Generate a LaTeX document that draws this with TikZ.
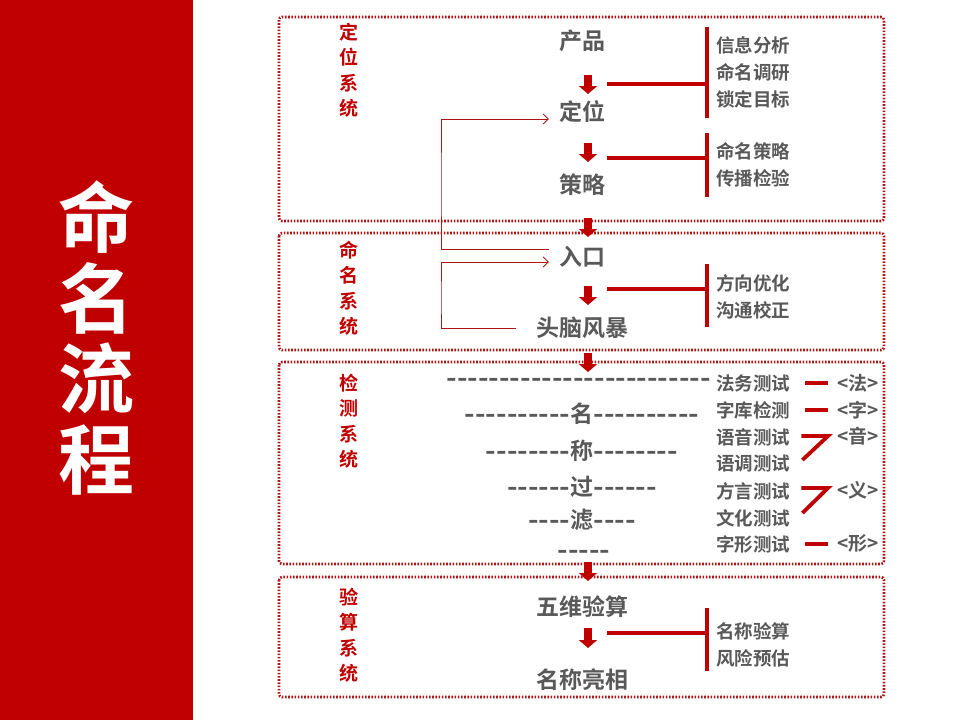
\documentclass[tikz,border=0pt]{standalone}
\usepackage{fontspec}
\setmainfont{Noto Sans CJK SC}[BoldFont={Noto Sans CJK SC Bold}]
\newfontfamily\dashfont{Noto Sans CJK SC Bold}[FakeStretch=1.2,Ligatures=TeXOff]
\usetikzlibrary{
  arrows.meta,
  calc
}
\definecolor{deepred}{HTML}{C00000}
\definecolor{boxred}{HTML}{B01515}
\definecolor{textgray}{HTML}{595959}
\tikzset{
  sys box/.style={
    draw=boxred, line width=2.6pt, dash pattern=on 1.6pt off 1.6pt,
    rounded corners=3pt
  },
  sys label/.style={
    text=deepred, align=center, inner sep=0pt,
    font=\fontsize{19}{25.5}\selectfont\bfseries
  },
  step node/.style={
    text=textgray, inner sep=2pt,
    font=\fontsize{23}{27}\selectfont\bfseries
  },
  item list/.style={
    text=textgray, align=left, anchor=west, inner sep=0pt,
    font=\fontsize{18.5}{27}\selectfont\bfseries
  },
  dash row/.style={
    text=textgray, inner sep=0pt,
    font=\fontsize{23}{25}\selectfont\bfseries
  },
  tag node/.style={
    text=textgray, anchor=west, inner sep=0pt,
    font=\fontsize{19}{22}\selectfont\bfseries
  },
  down arrow/.style={
    draw=deepred, line width=8pt, -{Triangle[width=18pt,length=8pt]}
  },
  bracket line/.style={draw=deepred, line width=4pt},
  tick line/.style={draw=deepred, line width=3.8pt, line join=miter},
  loop line/.style={
    draw=boxred, line width=0.9pt, -{Straight Barb[length=5pt,width=10pt]}
  }
}

\begin{document}
\begin{tikzpicture}[x=1pt,y=-1pt]
\useasboundingbox (0,0) rectangle (960,720);
\fill[deepred] (0,0) rectangle (193,720);
\node[text=white, align=center, font=\fontsize{76}{80.5}\selectfont\bfseries] (title) at (96,338) {命\\名\\流\\程};

% four system boxes
\draw[sys box] (279,17) rectangle (884,221);
\draw[sys box] (279,233) rectangle (884,350);
\draw[sys box] (279,362) rectangle (884,564);
\draw[sys box] (279,577) rectangle (884,697);
\node[sys label] (dwxt) at (349,70) {定\\位\\系\\统};
\node[sys label] (mmxt) at (349,288) {命\\名\\系\\统};
\node[sys label] (jcxt) at (349,421) {检\\测\\系\\统};
\node[sys label] (ysxt) at (349,635) {验\\算\\系\\统};

% main steps
\node[step node] (chanpin) at (582,41) {产品};
\node[step node] (dingwei) at (582,112) {定位};
\node[step node] (celve) at (582,185) {策略};
\node[step node] (rukou) at (582,257) {入口};
\node[step node] (naobao) at (582,328) {头脑风暴};
\node[step node] (wuwei) at (582,607) {五维验算};
\node[step node] (liangxiang) at (582,680) {名称亮相};

\coordinate (a1s) at (588,75);  \coordinate (a1e) at (588,94);
\coordinate (a2s) at (588,143); \coordinate (a2e) at (588,162);
\coordinate (a3s) at (588,218); \coordinate (a3e) at (588,237);
\coordinate (a4s) at (588,286); \coordinate (a4e) at (588,305);
\coordinate (a5s) at (588,353); \coordinate (a5e) at (588,372);
\coordinate (a6s) at (588,562); \coordinate (a6e) at (588,581);
\coordinate (a7s) at (588,628); \coordinate (a7e) at (588,648);
\foreach \i in {1,...,7}
  \draw[down arrow] (a\i s) -- (a\i e);

% brackets with their lists
\coordinate (b1t) at (707,27);  \coordinate (b1b) at (707,118);
\coordinate (b2t) at (707,133); \coordinate (b2b) at (707,197);
\coordinate (b3t) at (707,264); \coordinate (b3b) at (707,327);
\coordinate (b4t) at (707,608); \coordinate (b4b) at (707,671);
\coordinate (h1) at (607,84);
\coordinate (h2) at (607,158);
\coordinate (h3) at (607,289);
\coordinate (h4) at (607,633);
\foreach \i in {1,...,4}{
  \draw[bracket line] (b\i t) -- (b\i b);
  \draw[bracket line] (h\i) -- (h\i -| b\i t);
}
\node[item list] (list1) at (716,72) {信息分析\\命名调研\\锁定目标};
\node[item list] (list2) at (716,165) {命名策略\\传播检验};
\node[item list] (list3) at (716,297) {方向优化\\沟通校正};
\node[item list] (list4) at (716,645) {名称验算\\风险预估};

% feedback loops
\coordinate (loop1) at (441,185);
\coordinate (loop2) at (441,300);
\draw[loop line] ([xshift=-8pt,yshift=8pt]rukou.west) -| (loop1) |- ([xshift=-8pt,yshift=-7pt]dingwei.west);
\draw[loop line] ([xshift=-18pt]naobao.west) -| (loop2) |- ([xshift=-8pt,yshift=-5pt]rukou.west);

% filter funnel
\node[dash row, anchor=east] (row1) at (711,382) {\dashfont -------------------------};
\node[dash row] (row2) at (582,414) {{\dashfont ----------}名{\dashfont ----------}};
\node[dash row] (row3) at (582,451) {{\dashfont --------}称{\dashfont --------}};
\node[dash row] (row4) at (582,487) {{\dashfont ------}过{\dashfont ------}};
\node[dash row] (row5) at (582,520) {{\dashfont ----}滤{\dashfont ----}};
\node[dash row] (row6) at (584,554) {\dashfont -----};

\node[item list] (fawu) at (716,383) {法务测试};
\node[item list] (ziku) at (716,410) {字库检测};
\node[item list] (yuyin) at (716,437) {语音测试};
\node[item list] (yudiao) at (716,464) {语调测试};
\node[item list] (fangyan) at (716,491) {方言测试};
\node[item list] (wenhua) at (716,518) {文化测试};
\node[item list] (zixing) at (716,544) {字形测试};

\node[tag node] (tagfa) at (837,383) {<法>};
\node[tag node] (tagzi) at (837,410) {<字>};
\node[tag node] (tagyin) at (837,436) {<音>};
\node[tag node] (tagyi) at (837,490) {<义>};
\node[tag node] (tagxing) at (837,543) {<形>};

\draw[tick line] ([xshift=15pt]fawu.east) -- ([xshift=-9pt]fawu.east -| tagfa.west);
\draw[tick line] ([xshift=15pt]ziku.east) -- ([xshift=-9pt]ziku.east -| tagzi.west);
\draw[tick line] ([xshift=15pt]zixing.east) -- ([xshift=-9pt]zixing.east -| tagxing.west);
\draw[tick line] ([xshift=11pt,yshift=1pt]yuyin.east) -- ([xshift=-9pt,yshift=1pt]yuyin.east -| tagyin.west) -- ([xshift=12pt,yshift=4pt]yudiao.east);
\draw[tick line] ([xshift=11pt,yshift=3pt]fangyan.east) -- ([xshift=-9pt,yshift=3pt]fangyan.east -| tagyi.west) -- ([xshift=12pt,yshift=5pt]wenhua.east);
\end{tikzpicture}
\end{document}
